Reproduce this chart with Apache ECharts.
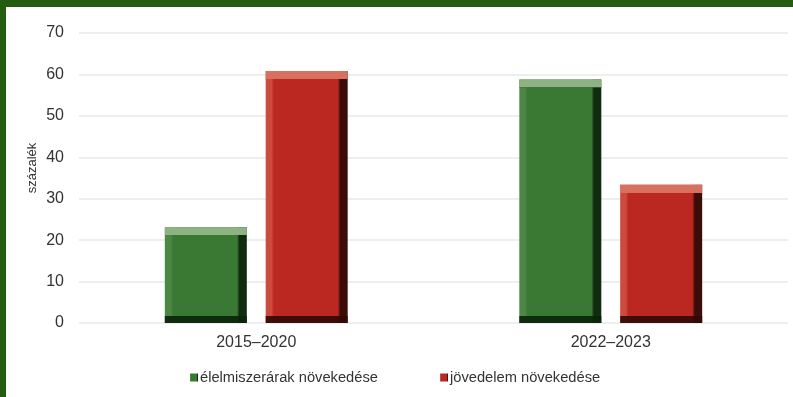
<!DOCTYPE html>
<html>
<head>
<meta charset="utf-8">
<script src="https://cdn.jsdelivr.net/npm/echarts@6/dist/echarts.min.js"></script>
<style>
	html, body { margin: 0; padding: 0; background: #fff; }
	#frame { width: 793px; height: 397px; box-sizing: border-box; border-top: 7px solid #265b12; border-left: 6px solid #265b12; }
	#chart { width: 787px; height: 390px; }
</style>
</head>
<body>
<div id="frame"><div id="chart"></div></div>
<script>
	// adatok
	var categories = ['2015–2020', '2022–2023'];
	var foodPrices = [23.1, 58.8];
	var income = [60.8, 33.4];
	var seriesNames = ['élelmiszerárak növekedése', 'jövedelem növekedése'];

	var chart = echarts.init(document.getElementById('chart'));

	var yMax = 70;
	var plotH = 390 - 26 - 74;
	var bevel = 8; //px

	//oldalsó árnyalás
	function sideGrad(light, main, dark) {
		return new echarts.graphic.LinearGradient(0, 0, 1, 0, [
			{ offset: 0, color: light },
			{ offset: 0.07, color: light },
			{ offset: 0.1, color: main },
			{ offset: 0.88, color: main },
			{ offset: 0.91, color: dark },
			{ offset: 1, color: dark }
		]);
	}

	//felső-alsó él
	function capData(values, top, bottom) {
		return values.map(function(v) {
			var f = bevel / (v / yMax * plotH);
			return {
				value: v,
				itemStyle: {
					color: new echarts.graphic.LinearGradient(0, 0, 0, 1, [
						{ offset: 0, color: top },
						{ offset: f, color: top },
						{ offset: f + 0.001, color: 'rgba(0,0,0,0)' },
						{ offset: 1 - f * 0.9, color: 'rgba(0,0,0,0)' },
						{ offset: 1 - f * 0.9 + 0.001, color: bottom },
						{ offset: 1, color: bottom }
					])
				}
			};
		});
	}

	var option = {
		animation: false,
		textStyle: { fontFamily: 'Liberation Sans, Arial, sans-serif' },
		grid: { left: 73, right: 5, top: 26, bottom: 74 },
		legend: {
			data: seriesNames,
			left: 179,
			top: 358,
			icon: 'rect',
			itemWidth: 8,
			itemHeight: 8,
			itemGap: 62,
			textStyle: { fontSize: 14.7, color: '#333', padding: [0, 0, 0, -3] }
		},
		xAxis: [{
			type: 'category',
			data: categories,
			axisLine: { show: false },
			axisTick: { show: false },
			axisLabel: { fontSize: 16, color: '#333', margin: 12 }
		}, {
			type: 'category',
			data: categories,
			show: false
		}],
		yAxis: {
			type: 'value',
			min: 0,
			max: yMax,
			interval: 10,
			name: 'százalék',
			nameLocation: 'middle',
			nameGap: 40,
			nameMoveOverlap: false,
			nameTextStyle: { fontSize: 13, color: '#333', padding: [0, 0, 0, 20] },
			axisLabel: { fontSize: 16, color: '#333', margin: 15 },
			splitLine: { lineStyle: { color: '#e8e8e8', width: 1.5 } }
		},
		series: [{
			name: seriesNames[0],
			type: 'bar',
			data: foodPrices,
			barWidth: 82,
			barGap: '23%',
			itemStyle: { color: sideGrad('#4d8745', '#3a7934', '#0f2b10') }
		}, {
			name: seriesNames[1],
			type: 'bar',
			data: income,
			barWidth: 82,
			barGap: '23%',
			itemStyle: { color: sideGrad('#cc4b3d', '#bb2822', '#3b0d09') }
		}, {
			name: 'g_el',
			type: 'bar',
			xAxisIndex: 1,
			data: capData(foodPrices, '#8db383', 'rgba(10,35,10,0.9)'),
			barWidth: 82,
			barGap: '23%'
		}, {
			name: 'r_el',
			type: 'bar',
			xAxisIndex: 1,
			data: capData(income, '#d9705f', 'rgba(50,8,5,0.9)'),
			barWidth: 82,
			barGap: '23%'
		}]
	};
	chart.setOption(option);
</script>
</body>
</html>
